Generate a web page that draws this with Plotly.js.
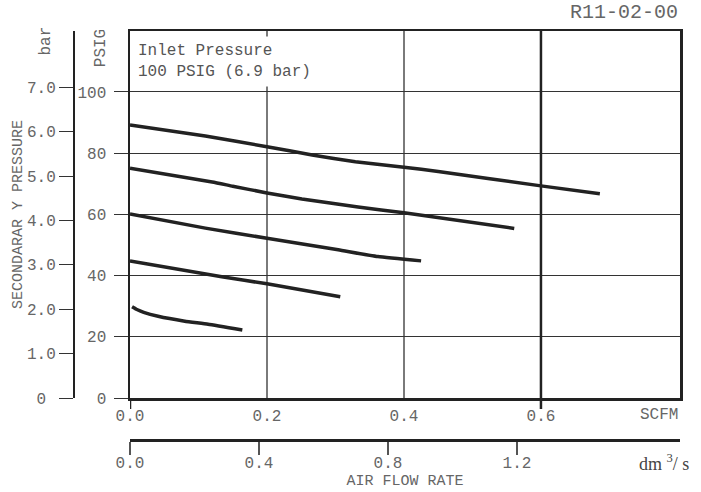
<!DOCTYPE html>
<html>
<head>
<meta charset="utf-8">
<script src="https://cdn.plot.ly/plotly-3.0.1.min.js"></script>
<style>
  html, body { margin: 0; padding: 0; background: #fff; }
  #chart { width: 701px; height: 492px; }
</style>
</head>
<body>
<div id="chart"></div>
<script>
// ---- data ----
const scfm1 = [0, 0.11, 0.20, 0.266, 0.329, 0.40, 0.45, 0.60, 0.686];
const psig1 = [89.2, 85.6, 82.1, 79.4, 77.2, 75.4, 74.0, 69.3, 66.7];

const scfm2 = [0, 0.12, 0.15, 0.20, 0.251, 0.333, 0.40, 0.561];
const psig2 = [75.1, 70.6, 69.2, 67.0, 65.0, 62.4, 60.5, 55.4];

const scfm3 = [0, 0.11, 0.20, 0.304, 0.362, 0.425];
const psig3 = [60.1, 55.5, 52.2, 48.4, 46.2, 44.8];

const scfm4 = [0, 0.134, 0.20, 0.307];
const psig4 = [44.8, 39.6, 37.3, 33.1];

const scfm5 = [0.003, 0.01, 0.02, 0.041, 0.08, 0.114, 0.164];
const psig5 = [29.8, 28.9, 28.0, 26.7, 25.1, 24.1, 22.2];

const scfmTicks = [0, 0.2, 0.4, 0.6];
const scfmTickText = ['0.0', '0.2', '0.4', '0.6'];
const psigTicks = [0, 20, 40, 60, 80, 100];
const psigTickText = ['0', '20', '40', '60', '80', '100'];
const barTicks = [0, 1, 2, 3, 4, 5, 6, 7];
const barTickText = ['0\u00a0', '1.0', '2.0', '3.0', '4.0', '5.0', '6.0', '7.0'];
const flowTicks = [0, 0.4, 0.8, 1.2];
const flowTickText = ['0.0', '0.4', '0.8', '1.2'];
const heavyGridScfm = [0.6];
const axisExtensionScfm = [0];

const PSI_PER_BAR = 14.5038;
const PSIG_MAX = 119.9;
const SCFM_MAX = 0.803;
const FLOW_MAX = 1.7054;

// ---- drawing ----
const MONO = 'Courier New, Liberation Mono, monospace';
const TXT = '#666';
const INK = '#222';

const series = [[scfm1, psig1], [scfm2, psig2], [scfm3, psig3], [scfm4, psig4], [scfm5, psig5]];
const traces = series.map(([x, y], i) => ({
  type: 'scatter', mode: 'lines', x: x, y: y, name: 'curve ' + (i + 1),
  line: { color: INK, width: 3.5, shape: 'spline', smoothing: 0.4 },
  hoverinfo: 'skip', showlegend: false
}));
// helper traces so the secondary axes exist
traces.push({ type: 'scatter', x: [], y: [], xaxis: 'x', yaxis: 'y2', showlegend: false, hoverinfo: 'skip' });
traces.push({ type: 'scatter', x: [], y: [], xaxis: 'x2', yaxis: 'y', showlegend: false, hoverinfo: 'skip' });

// layout geometry (pixels -> paper)
const W = 701, H = 492, ML = 30, MR = 21, MT = 31, MB = 40;
const PW = W - ML - MR, PH = H - MT - MB;
const px = v => (v - ML) / PW;
const py = v => (H - MB - v) / PH;

const yDomLo = py(398);

const shapes = [];
heavyGridScfm.forEach(v => shapes.push({
  type: 'line', xref: 'x', yref: 'paper', x0: v, x1: v, y0: py(409), y1: 1,
  line: { color: INK, width: 2.5 }, layer: 'above'
}));
axisExtensionScfm.forEach(v => shapes.push({
  type: 'line', xref: 'x', yref: 'paper', x0: v, x1: v, y0: py(409), y1: yDomLo,
  line: { color: INK, width: 2.5 }, layer: 'above'
}));

const layout = {
  width: W, height: H,
  margin: { l: ML, r: MR, t: MT, b: MB },
  paper_bgcolor: '#fff', plot_bgcolor: '#fff',
  showlegend: false,
  font: { family: MONO, color: TXT, size: 16 },
  xaxis: {
    domain: [px(130), 1], range: [0, SCFM_MAX],
    tickmode: 'array', tickvals: scfmTicks, ticktext: scfmTickText,
    ticks: 'outside', ticklen: 1, tickcolor: 'rgba(0,0,0,0)',
    showgrid: true, gridcolor: '#7a7a7a', gridwidth: 1.5,
    showline: true, linecolor: INK, linewidth: 2.5, mirror: true,
    zeroline: false, tickfont: { family: MONO, size: 16, color: TXT }
  },
  yaxis: {
    domain: [yDomLo, 1], range: [0, PSIG_MAX],
    tickmode: 'array', tickvals: psigTicks, ticktext: psigTickText,
    ticks: 'outside', ticklen: 14, tickcolor: '#333', tickwidth: 1,
    showgrid: true, gridcolor: '#333', gridwidth: 1,
    showline: true, linecolor: INK, linewidth: 2.5, mirror: true,
    zeroline: false, ticklabelstandoff: 4,
    tickfont: { family: MONO, size: 16, color: TXT }
  },
  yaxis2: {
    overlaying: 'y', anchor: 'free', position: px(74), side: 'left',
    range: [0, PSIG_MAX / PSI_PER_BAR],
    tickmode: 'array', tickvals: barTicks, ticktext: barTickText,
    ticks: 'outside', ticklen: 14, tickcolor: '#333', tickwidth: 1,
    showgrid: false, showline: true, linecolor: INK, linewidth: 2,
    zeroline: false, ticklabelstandoff: 0,
    tickfont: { family: MONO, size: 16, color: TXT },
    title: { text: 'SECONDARAR Y PRESSURE', font: { family: MONO, size: 15, color: TXT }, standoff: 0 }
  },
  xaxis2: {
    overlaying: 'x', anchor: 'free', position: py(440), side: 'bottom',
    domain: [px(130), 1], range: [0, FLOW_MAX],
    tickmode: 'array', tickvals: flowTicks, ticktext: flowTickText,
    ticks: 'outside', ticklen: 13, tickcolor: '#555', tickwidth: 1.5,
    showgrid: false, showline: true, linecolor: INK, linewidth: 2.5,
    zeroline: false, ticklabelstandoff: -6,
    tickfont: { family: MONO, size: 16, color: TXT },
    title: { text: 'AIR FLOW RATE', font: { family: MONO, size: 15, color: TXT }, standoff: 2 }
  },
  shapes: shapes,
  annotations: [
    { text: 'R11-02-00', xref: 'paper', yref: 'paper', x: 1, y: py(12), xanchor: 'right', yanchor: 'middle',
      showarrow: false, font: { family: MONO, size: 20, color: TXT } },
    { text: 'Inlet Pressure<br>100 PSIG (6.9 bar)', xref: 'paper', yref: 'paper', x: px(132), y: py(36),
      xanchor: 'left', yanchor: 'top', align: 'left', showarrow: false, bgcolor: '#fff', borderpad: 5,
      font: { family: MONO, size: 16, color: '#555' } },
    { text: 'bar', xref: 'paper', yref: 'paper', x: px(46), y: py(41.5), textangle: -90,
      xanchor: 'center', yanchor: 'middle', showarrow: false, font: { family: MONO, size: 16, color: TXT } },
    { text: 'PSIG', xref: 'paper', yref: 'paper', x: px(100.5), y: py(48.7), textangle: -90,
      xanchor: 'center', yanchor: 'middle', showarrow: false, font: { family: MONO, size: 16, color: TXT } },
    { text: 'SCFM', xref: 'paper', yref: 'paper', x: px(659), y: py(415),
      xanchor: 'center', yanchor: 'middle', showarrow: false, font: { family: MONO, size: 16, color: TXT } },
    { text: 'dm <sup>3</sup>/ s', xref: 'paper', yref: 'paper', x: px(637), y: py(462),
      xanchor: 'left', yanchor: 'middle', showarrow: false,
      font: { family: 'Liberation Serif, Times New Roman, serif', size: 18, color: '#444' } }
  ]
};

Plotly.newPlot('chart', traces, layout, { staticPlot: true, displayModeBar: false });
</script>
</body>
</html>
